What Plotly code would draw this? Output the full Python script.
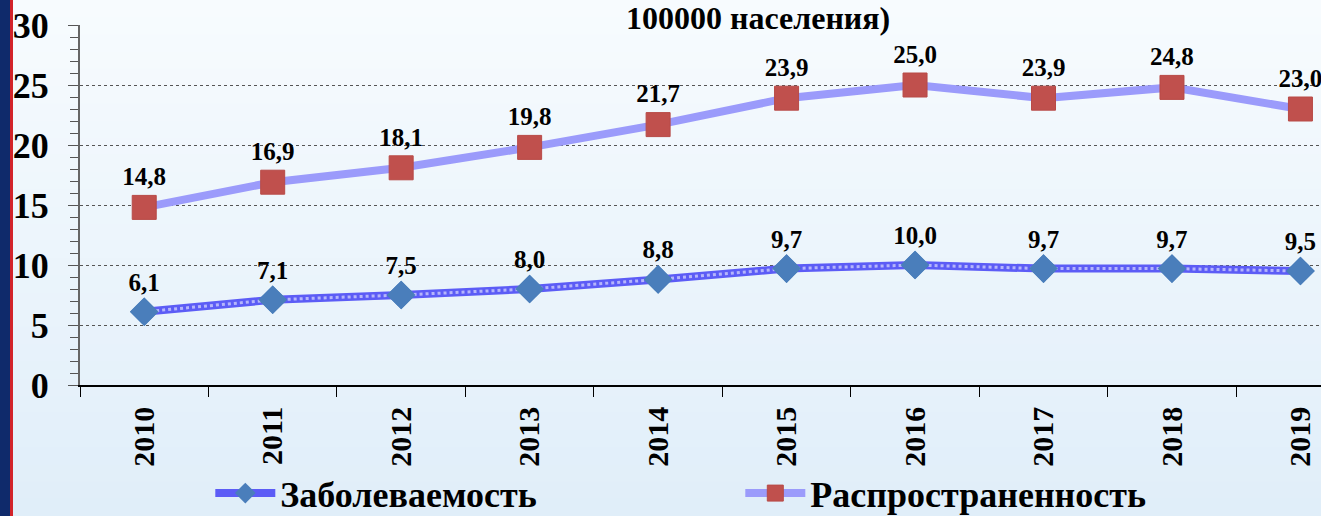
import plotly.graph_objects as go

years = ["2010", "2011", "2012", "2013", "2014", "2015", "2016", "2017", "2018", "2019"]
incidence = [6.1, 7.1, 7.5, 8.0, 8.8, 9.7, 10.0, 9.7, 9.7, 9.5]
prevalence = [14.8, 16.9, 18.1, 19.8, 21.7, 23.9, 25.0, 23.9, 24.8, 23.0]
incidence_labels = ["6,1", "7,1", "7,5", "8,0", "8,8", "9,7", "10,0", "9,7", "9,7", "9,5"]
prevalence_labels = ["14,8", "16,9", "18,1", "19,8", "21,7", "23,9", "25,0", "23,9", "24,8", "23,0"]

SERIF = "Liberation Serif, Times New Roman, serif"
W, H = 1321, 516
L, R, T, B = 80, 0, 25, 131
PW = W - L - R
PH = H - T - B

fig = go.Figure()

# Заболеваемость: линия с "узором" (синяя + белые точки поверх)
fig.add_trace(go.Scatter(
    x=years, y=incidence, name="<b>Заболеваемость</b>",
    mode="lines+markers",
    line=dict(color="#5c5cf6", width=8),
    marker=dict(symbol="diamond", size=22, color="#4a7ebb"),
))
fig.add_trace(go.Scatter(
    x=years, y=incidence, showlegend=False, hoverinfo="skip",
    mode="lines", line=dict(color="rgba(255,255,255,0.55)", width=3, dash="dot"),
))
fig.add_trace(go.Scatter(
    x=years, y=incidence, showlegend=False,
    mode="markers+text",
    marker=dict(symbol="diamond", size=22, color="#4a7ebb"),
    text=["<b>%s</b>" % s for s in incidence_labels], textposition="top center",
    textfont=dict(family=SERIF, size=25, color="black"),
    cliponaxis=False,
))
fig.add_trace(go.Scatter(
    x=years, y=prevalence, name="<b>Распространенность</b>",
    mode="lines+markers+text",
    line=dict(color="#9b9bfb", width=8),
    marker=dict(symbol="square", size=24, color="#c0504d",
                line=dict(color="#b84a47", width=1)),
    text=["<b>%s</b>" % s for s in prevalence_labels], textposition="top center",
    textfont=dict(family=SERIF, size=25, color="black"),
    cliponaxis=False,
))

# фон с градиентом (полосами)
shapes = []
n = 30
top = (247, 251, 254)
bot = (224, 238, 249)
for i in range(n):
    t = i / (n - 1)
    c = tuple(round(top[k] + (bot[k] - top[k]) * t) for k in range(3))
    y1 = 1 + T / PH - i * (H / PH) / n
    y0 = y1 - (H / PH) / n - 0.002
    shapes.append(dict(type="rect", xref="paper", yref="paper",
                       x0=-L / PW, x1=1 + 0.01, y0=y0, y1=y1,
                       fillcolor="rgb(%d,%d,%d)" % c, line_width=0, layer="below"))
# левая полоса
shapes.append(dict(type="rect", xref="paper", yref="paper",
                   x0=-L / PW, x1=-(L - 10) / PW, y0=-B / PH, y1=1 + T / PH,
                   fillcolor="#0f2a6b", line_width=0, layer="above"))
shapes.append(dict(type="rect", xref="paper", yref="paper",
                   x0=-(L - 10) / PW, x1=-(L - 13) / PW, y0=-B / PH, y1=1 + T / PH,
                   fillcolor="#d2232a", line_width=0, layer="above"))

fig.update_layout(
    width=W, height=H,
    margin=dict(l=L, r=R, t=T, b=B, autoexpand=False),
    paper_bgcolor="#f0f6fc",
    plot_bgcolor="rgba(0,0,0,0)",
    shapes=shapes,
    showlegend=True,
    legend=dict(
        orientation="h", x=0.105, xanchor="left", y=-B / PH - 0.02, yanchor="bottom",
        font=dict(family=SERIF, size=36, color="black"),
        entrywidth=455, itemwidth=60, bgcolor="rgba(0,0,0,0)",
    ),
    annotations=[dict(
        text="<b>100000 населения)</b>", xref="paper", yref="paper",
        x=0.546, y=1 + (T - 18) / PH, yanchor="middle", showarrow=False,
        font=dict(family=SERIF, size=32, color="black"),
    )],
    font=dict(family=SERIF, color="black"),
)

fig.update_xaxes(
    type="category", range=[-0.5, 9.16],
    tickson="boundaries", ticks="outside", ticklen=10, tickcolor="black",
    showline=True, linecolor="black", linewidth=1.5,
    showgrid=False, tickangle=-90, ticklabelstandoff=8,
    tickfont=dict(family=SERIF, size=30, color="black"),
    tickprefix="<b>", ticksuffix="</b>",
)
fig.update_yaxes(
    range=[0, 30], dtick=5, ticks="outside", ticklen=10, tickcolor="#555",
    showline=True, linecolor="#666", linewidth=2,
    showgrid=True, gridcolor="#555", griddash="dot", gridwidth=1,
    zeroline=False, ticklabelstandoff=12,
    minor=dict(dtick=1, ticks="outside", ticklen=8, tickcolor="#555", showgrid=False),
    tickfont=dict(family=SERIF, size=36, color="black"),
    tickprefix="<b>", ticksuffix="</b>",
)

fig.write_html("out.html", config={"displayModeBar": False},
               post_script="document.body.style.margin='0';")
